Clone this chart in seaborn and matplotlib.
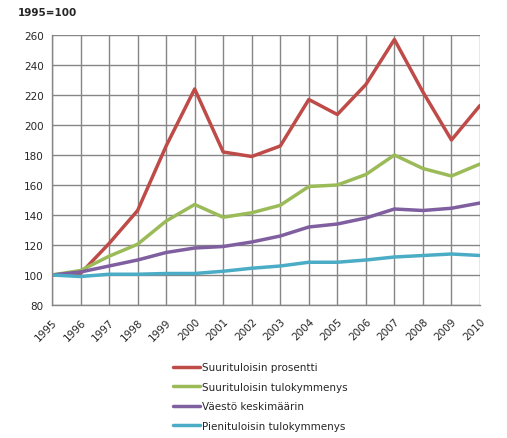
import pandas as pd
import seaborn as sns
import matplotlib.pyplot as plt

years = list(range(1995, 2011))
suurituloisin_prosentti = [100, 101, 121, 143, 186, 224, 182, 179, 186, 217, 207, 227, 257, 222, 190, 213]
suurituloisin_tulokymmenys = [100, 103, 112.5, 120.5, 136, 147, 138.5, 141.5, 146.5, 159, 160, 167, 180, 171, 166, 174]
vaesto_keskimaarin = [100, 102, 106, 110, 115, 118, 119, 122, 126, 132, 134, 138, 144, 143, 144.5, 148]
pienituloisin_tulokymmenys = [100, 99, 100.5, 100.5, 101, 101, 102.5, 104.5, 106, 108.5, 108.5, 110, 112, 113, 114, 113]

series_names = ["Suurituloisin prosentti", "Suurituloisin tulokymmenys",
                "Väestö keskimäärin", "Pienituloisin tulokymmenys"]
colors = ["#BE4B48", "#9BBB59", "#7F5FA0", "#4BACC6"]

df = pd.DataFrame({
    "Vuosi": years * 4,
    "Indeksi": suurituloisin_prosentti + suurituloisin_tulokymmenys
               + vaesto_keskimaarin + pienituloisin_tulokymmenys,
    "Sarja": sum([[n] * len(years) for n in series_names], []),
})

sns.set_style("white")
plt.rcParams['font.family'] = ['DejaVu Sans']

fig = plt.figure(figsize=(5.07, 4.39), dpi=100)
ax = fig.add_axes([52 / 507, 1 - 306 / 439, 428 / 507, 270 / 439])

sns.lineplot(data=df, x="Vuosi", y="Indeksi", hue="Sarja", hue_order=series_names,
             palette=colors, linewidth=2.5, ax=ax, legend=True)

ax.set_xlim(1995, 2010)
ax.set_ylim(80, 260)
ax.set_xticks(years)
ax.set_xticklabels([str(y) for y in years], rotation=45, ha="right", rotation_mode="anchor")
ax.set_yticks(range(80, 261, 20))
ax.tick_params(axis="both", labelsize=7.5, length=4, width=1, color="#868686", direction="out", pad=2)
ax.tick_params(axis="x", pad=4)
ax.grid(True, color="#868686", linewidth=1)
ax.set_axisbelow(True)
for side in ["top", "right"]:
    ax.spines[side].set_visible(False)
for side in ["left", "bottom"]:
    ax.spines[side].set_color("#868686")
    ax.spines[side].set_linewidth(1)
ax.set_xlabel("")
ax.set_ylabel("")

fig.text(18 / 507, 1 - 13 / 439, "1995=100", fontsize=7.5, fontweight="bold", va="center", ha="left")

handles, labels = ax.get_legend_handles_labels()
ax.legend(handles, labels, loc="upper left", bbox_to_anchor=(168 / 507, 1 - 358 / 439),
          bbox_transform=fig.transFigure, frameon=False, fontsize=7.5,
          handlelength=2.6, handletextpad=0.15, labelspacing=0.92, borderpad=0)

fig.savefig("out.png", dpi=100)
